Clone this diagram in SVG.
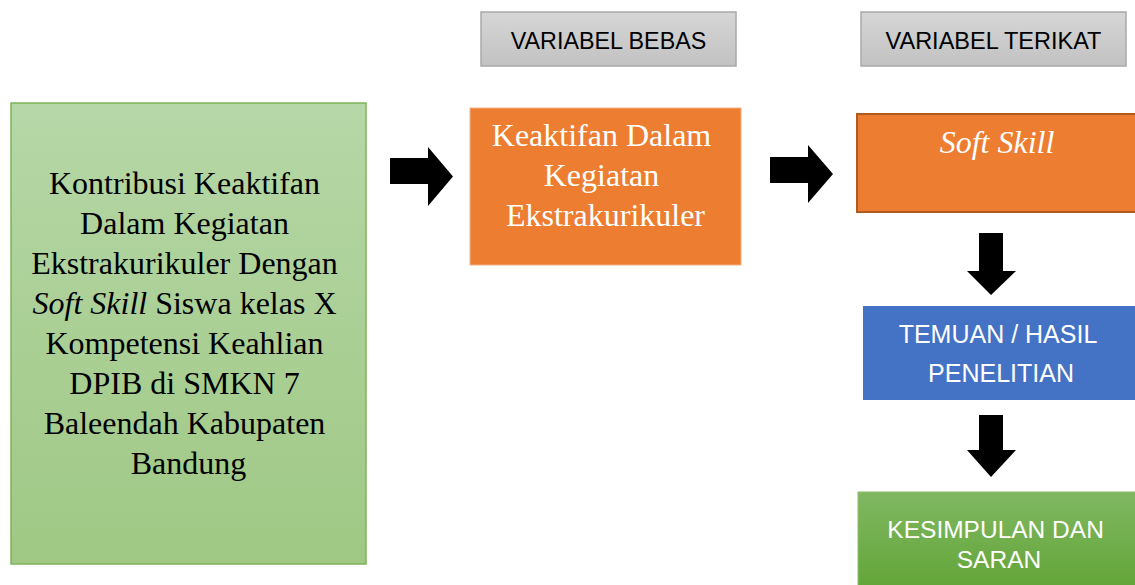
<svg xmlns="http://www.w3.org/2000/svg" width="1135" height="585" viewBox="0 0 1135 585">
<defs>
<linearGradient id="gGreen" x1="0" y1="0" x2="0" y2="1"><stop offset="0" stop-color="#B6D7A7"/><stop offset="1" stop-color="#9FC884"/></linearGradient>
<linearGradient id="gGray" x1="0" y1="0" x2="0" y2="1"><stop offset="0" stop-color="#D6D6D6"/><stop offset="1" stop-color="#C2C2C2"/></linearGradient>
<linearGradient id="gGreen2" x1="0" y1="0" x2="0" y2="1"><stop offset="0" stop-color="#80B862"/><stop offset="1" stop-color="#62A436"/></linearGradient>
</defs>
<style>
.serif{font-family:"Liberation Serif","Times New Roman",serif;font-size:32px;text-anchor:middle}
.sans{font-family:"Liberation Sans",Arial,sans-serif;text-anchor:middle}
.hdr{fill:url(#gGray);stroke:#A9A9A9;stroke-width:1.5}
.arrow{fill:#000}
</style>
<g id="main">
<rect x="11" y="103" width="355" height="461" fill="url(#gGreen)" stroke="#7CB45A" stroke-width="1.5"/>
<text class="serif" fill="#000">
<tspan x="188.5" y="194">Kontribusi Keaktifan</tspan>
<tspan x="188.5" y="234">Dalam Kegiatan</tspan>
<tspan x="188.5" y="274">Ekstrakurikuler Dengan</tspan>
<tspan x="188.5" y="314"><tspan font-style="italic">Soft Skill</tspan> Siswa kelas X</tspan>
<tspan x="188.5" y="354">Kompetensi Keahlian</tspan>
<tspan x="188.5" y="394">DPIB di SMKN 7</tspan>
<tspan x="188.5" y="434">Baleendah Kabupaten</tspan>
<tspan x="188.5" y="474">Bandung</tspan>
</text>
</g>
<g id="hdr-bebas">
<rect class="hdr" x="481" y="12" width="255" height="54"/>
<text class="sans" x="608.5" y="49" font-size="23.3" fill="#000">VARIABEL BEBAS</text>
</g>
<g id="hdr-terikat">
<rect class="hdr" x="861" y="12" width="265" height="54"/>
<text class="sans" x="993.5" y="49" font-size="23.5" fill="#000">VARIABEL TERIKAT</text>
</g>
<g id="bebas">
<rect x="470" y="108" width="271" height="157" fill="#ED7D31" stroke="#F4B183" stroke-width="1"/>
<text class="serif" fill="#FFF">
<tspan x="605.5" y="146">Keaktifan Dalam</tspan>
<tspan x="605.5" y="186">Kegiatan</tspan>
<tspan x="605.5" y="226">Ekstrakurikuler</tspan>
</text>
</g>
<g id="softskill">
<rect x="857" y="114" width="290" height="98" fill="#ED7D31" stroke="#AE5A21" stroke-width="2"/>
<text class="serif" x="997" y="153" font-style="italic" fill="#FFF">Soft Skill</text>
</g>
<g id="temuan">
<rect x="863" y="306" width="280" height="94" fill="#4472C4"/>
<text class="sans" font-size="25" fill="#FFF">
<tspan x="1001" y="343">TEMUAN / HASIL</tspan>
<tspan x="1001" y="382">PENELITIAN</tspan>
</text>
</g>
<g id="kesimpulan">
<rect x="858" y="492" width="285" height="100" fill="url(#gGreen2)" stroke="#8CC06C" stroke-width="1"/>
<text class="sans" font-size="24.5" fill="#FFF">
<tspan x="999" y="538">KESIMPULAN DAN</tspan>
<tspan x="999" y="568">SARAN</tspan>
</text>
</g>
<g id="connectors">
<polygon class="arrow" points="390,158 428,158 428,147 453,176.5 428,206 428,184 390,184"/>
<polygon class="arrow" points="770,157 808,157 808,145 833,174 808,203 808,183 770,183"/>
<polygon class="arrow" points="979,233 1003,233 1003,271 1016,271 991,295 967,271 979,271"/>
<polygon class="arrow" points="979,415 1003,415 1003,450 1016,450 991,477 967,450 979,450"/>
</g>
</svg>
